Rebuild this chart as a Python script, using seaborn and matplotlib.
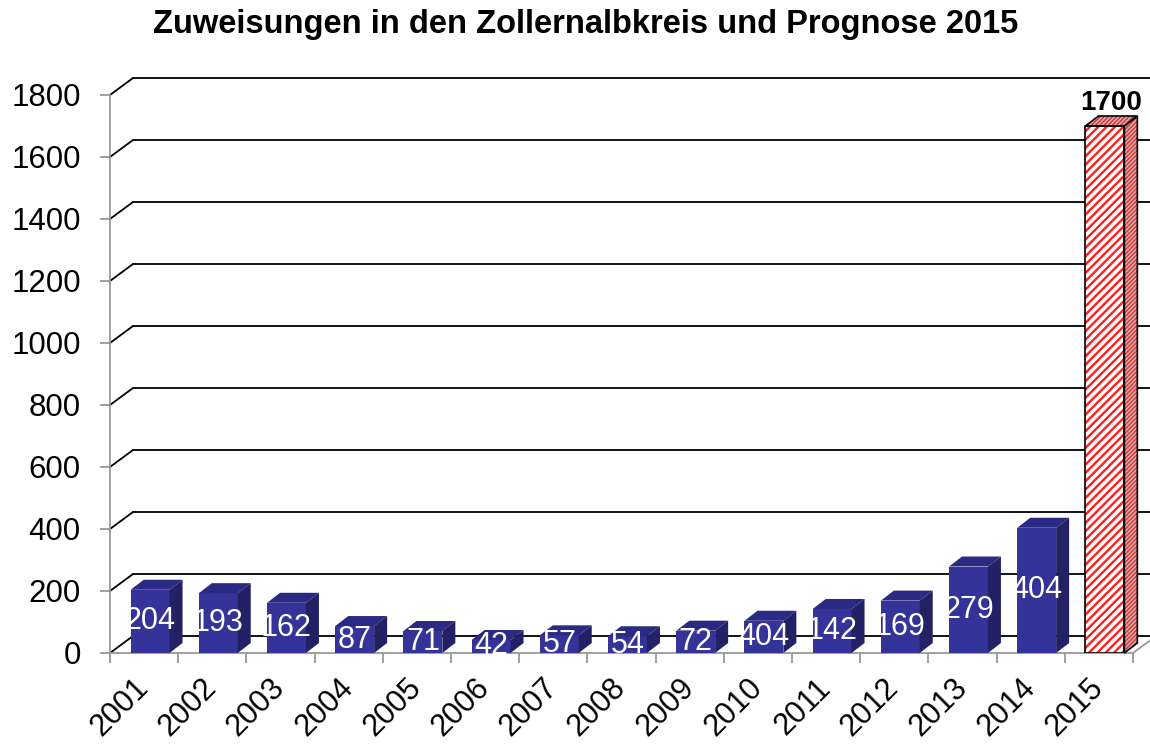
import matplotlib
matplotlib.use("Agg")
import matplotlib.pyplot as plt
from matplotlib.patches import Polygon, Rectangle
import seaborn as sns

sns.set_style("white")
plt.rcParams["font.family"] = ["Liberation Sans", "DejaVu Sans"]
plt.rcParams["text.color"] = "black"
plt.rcParams["xtick.labelcolor"] = "black"
plt.rcParams["ytick.labelcolor"] = "black"

years = [str(y) for y in range(2001, 2016)]
values = [204, 193, 162, 87, 71, 42, 57, 54, 72, 104, 142, 169, 279, 404, 1700]
bar_labels = ["204", "193", "162", "87", "71", "42", "57", "54", "72", "404",
              "142", "169", "279", "404", "1700"]
yticks = list(range(0, 1801, 200))

blue_front = "#333399"
blue_side = "#212163"
blue_top = "#2a2a85"

fig = plt.figure(figsize=(11.5, 7.45), dpi=100)
ax = fig.add_axes([110 / 1150, 1 - 653 / 745, (1133 - 110) / 1150, (653 - 95) / 745])

plt.rcParams["hatch.linewidth"] = 1.7
colors = [blue_front] * 14 + ["white"]
sns.barplot(x=years, y=values, hue=years, palette=colors, legend=False,
            width=0.57, saturation=1, ax=ax, zorder=3)

ax.set_xlim(-0.5, len(years) - 0.5)
ax.set_ylim(0, 1800)
ax.set_yticks(yticks)
ax.set_xlabel("")
ax.set_ylabel("")

# pixel -> data offsets for the fake 3D depth
inv = ax.transData.inverted()
ox, oy = inv.transform(ax.transData.transform((0, 0)))
def depth(dx_px, dy_px):
    x1, y1 = inv.transform(ax.transData.transform((0, 0)) + [dx_px, dy_px])
    return x1 - ox, y1 - oy

wdx, wdy = depth(23, 17)
bdx, bdy = depth(13, 10)

# back wall gridlines with slanted joins
x_left, x_right = -0.5, len(years) - 0.5
for yv in yticks:
    ax.plot([x_left + wdx, x_right + wdx], [yv + wdy, yv + wdy],
            color="black", lw=1.3, clip_on=False, zorder=1)
    ax.plot([x_left, x_left + wdx], [yv, yv + wdy],
            color="black", lw=1.3, clip_on=False, zorder=1)
ax.plot([x_right, x_right + wdx], [0, wdy], color="#999999", lw=1.3,
        clip_on=False, zorder=1)

# bars: front face shifted slightly, then top and side faces
shift = 0.088
for i, p in enumerate(ax.patches):
    p.set_x(p.get_x() + shift)
    x0, w, h = p.get_x(), p.get_width(), p.get_height()
    top = [(x0, h), (x0 + w, h), (x0 + w + bdx, h + bdy), (x0 + bdx, h + bdy)]
    side = [(x0 + w, 0), (x0 + w + bdx, bdy), (x0 + w + bdx, h + bdy), (x0 + w, h)]
    cx = x0 + w / 2
    if i < len(years) - 1:
        p.set_edgecolor("none")
        ax.add_patch(Polygon(top, closed=True, facecolor=blue_top,
                             edgecolor="none", zorder=3, clip_on=False))
        ax.add_patch(Polygon(side, closed=True, facecolor=blue_side,
                             edgecolor="none", zorder=3, clip_on=False))
        ax.text(cx, h / 2, bar_labels[i], color="white", fontsize=22,
                ha="center", va="center", zorder=5)
    else:
        p.set_facecolor("white")
        p.set_edgecolor("#ff2020")
        p.set_hatch("////")
        p.set_linewidth(0)
        ax.add_patch(Rectangle((x0, 0), w, h, fill=False, edgecolor="black",
                               lw=1.2, zorder=4))
        plt.rcParams["hatch.linewidth"] = 1.0
        for poly in (side, top):
            ax.add_patch(Polygon(poly, closed=True, facecolor="#d4b0b0",
                                 edgecolor="#e03030", hatch="////////", lw=0,
                                 zorder=3, clip_on=False))
            ax.add_patch(Polygon(poly, closed=True, fill=False,
                                 edgecolor="black", lw=1.2, zorder=4,
                                 clip_on=False))
        ax.text(cx + bdx / 2, h + bdy, bar_labels[i], color="black",
                fontsize=20, fontweight="bold", ha="center", va="bottom",
                zorder=5, clip_on=False)

# axes styling
for s in ["top", "right"]:
    ax.spines[s].set_visible(False)
for s in ["left", "bottom"]:
    ax.spines[s].set_color("#999999")
    ax.spines[s].set_linewidth(1.3)
    ax.spines[s].set_zorder(2)

ax.set_xticks(range(len(years)))
ax.set_xticklabels(years, rotation=45, ha="right", va="center",
                   rotation_mode="anchor", fontsize=22)
ax.set_xticks([i - 0.5 for i in range(len(years) + 1)], minor=True)
ax.tick_params(axis="x", which="major", length=0, pad=22)
ax.tick_params(axis="x", which="minor", length=7, width=1.3,
               color="#999999", direction="out", bottom=True)
ax.tick_params(axis="y", length=7, width=1.3, color="#999999",
               direction="out", left=True, labelsize=22.5, pad=14)

fig.text(586 / 1150, 1 - 25 / 745, "Zuweisungen in den Zollernalbkreis und Prognose 2015",
         ha="center", va="center", fontsize=23.5, fontweight="bold")

fig.savefig("out.png", dpi=100)
